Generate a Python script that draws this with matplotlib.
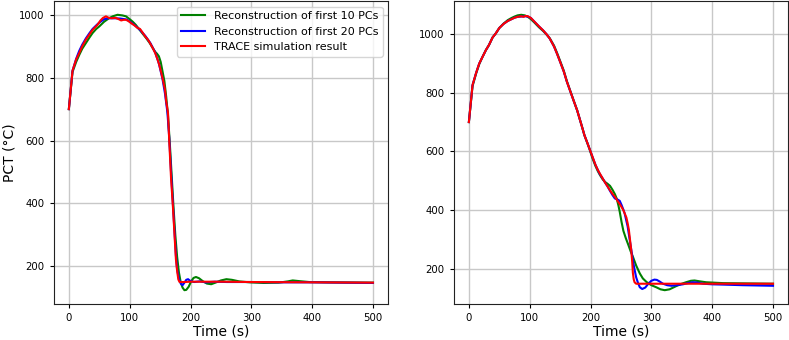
import matplotlib
matplotlib.use("Agg")
import matplotlib.pyplot as plt

# left case: fast quench
t_red_a = [0, 6, 12, 17, 22, 28, 34, 39, 47, 52, 56, 61, 66, 70, 77, 82, 86, 90, 94, 98,
           102, 108, 113, 117, 121, 126, 130, 134, 138, 142, 146, 149, 152, 155, 158, 160,
           163, 165, 168, 171, 174, 176, 178, 180, 182, 190, 200, 250, 300, 400, 500]
v_red_a = [700, 822, 858, 878, 900, 921, 938, 952, 968, 982, 990, 995, 990, 989, 990, 986, 982, 984, 984, 980,
           974, 966, 958, 955, 944, 930, 921, 908, 894, 878, 857, 838, 815, 790, 762, 725,
           688, 600, 480, 392, 290, 222, 185, 158, 150, 150, 151, 151, 150, 149, 148]

t_blue_a = [0, 6, 12, 17, 22, 28, 34, 39, 47, 52, 58, 65, 75, 85, 95, 102, 110, 118, 126, 134,
            142, 148, 154, 158, 162, 165, 168, 171, 174, 176, 178, 181, 184, 187, 190, 193,
            196, 200, 206, 215, 225, 240, 260, 300, 350, 400, 500]
v_blue_a = [700, 822, 860, 885, 905, 925, 942, 955, 970, 978, 986, 989, 989, 988, 985, 976, 964, 950, 932, 910,
            880, 845, 795, 750, 690, 610, 500, 400, 300, 235, 190, 160, 145, 140, 148, 157,
            159, 153, 150, 152, 149, 151, 150, 150, 149, 149, 147]

t_green_a = [0, 6, 12, 17, 22, 28, 34, 39, 45, 50, 58, 66, 72, 80, 88, 94, 100, 105, 110, 118,
             127, 133, 138, 142, 145, 148, 151, 154, 157, 160, 163, 166, 169, 172, 175, 178,
             181, 184, 187, 190, 193, 197, 201, 205, 209, 214, 220, 227, 234, 241, 250, 259,
             268, 280, 297, 320, 345, 360, 368, 378, 395, 430, 500]
v_green_a = [700, 818, 850, 872, 892, 910, 928, 942, 955, 963, 978, 989, 995, 1000, 998, 995, 986, 978, 968, 948,
             926, 910, 894, 882, 876, 868, 850, 820, 790, 740, 680, 590, 490, 390, 300, 230,
             180, 148, 132, 124, 125, 135, 152, 163, 166, 162, 153, 145, 143, 148, 155, 159,
             157, 152, 149, 147, 148, 152, 155, 153, 150, 149, 148]

# right case: slow quench
t_red_b = [0, 6, 12, 17, 22, 28, 33, 39, 44, 50, 57, 64, 70, 75, 80, 86, 90, 93, 97, 102,
           108, 115, 122, 128, 133, 140, 145, 150, 156, 161, 166, 172, 178, 182, 186, 190,
           195, 198, 203, 208, 212, 215, 220, 224, 228, 232, 236, 240, 244, 248, 251, 254,
           257, 259, 261, 263, 265, 267, 268.5, 269.6, 271, 272.4, 275, 300, 400, 500]
v_red_b = [700, 826, 868, 899, 920, 945, 962, 988, 1001, 1020, 1034, 1044, 1050, 1055, 1058, 1060, 1058, 1061, 1060, 1054,
           1041, 1026, 1012, 998, 984, 957, 932, 905, 872, 838, 809, 774, 740, 712, 684, 655,
           628, 611, 583, 555, 537, 526, 508, 494, 481, 468, 456, 446, 433, 421, 411, 400,
           385, 375, 356, 334, 298, 262, 225, 187, 165, 155, 150, 150, 150, 150]

t_blue_b = [0, 6, 12, 17, 22, 28, 33, 39, 44, 50, 57, 64, 70, 75, 80, 86, 93, 97, 102,
            108, 115, 122, 128, 133, 140, 145, 150, 156, 161, 166, 172, 178, 182, 186, 190,
            195, 198, 203, 208, 212, 215, 220, 224, 228, 232, 236, 240, 244, 248, 251, 254,
            256, 258, 261, 264, 267, 270, 272.4, 275, 278, 281, 285, 290, 295, 300, 305,
            309, 314, 319, 326, 333, 342, 352, 360, 368, 375, 385, 400, 418, 450, 500]
v_blue_b = [700, 826, 868, 899, 920, 945, 962, 988, 1001, 1020, 1034, 1044, 1050, 1055, 1058, 1059, 1060, 1059, 1054,
            1041, 1026, 1012, 998, 984, 957, 932, 905, 872, 838, 809, 774, 740, 712, 684, 655,
            628, 611, 583, 555, 537, 524, 508, 494, 481, 466, 452, 440, 437, 432, 418, 402,
            390, 372, 345, 305, 266, 225, 198, 172, 153, 138, 132, 137, 150, 160, 164,
            163, 157, 150, 145, 143, 145, 148, 152, 155, 154, 150, 148, 147, 145, 143]

t_green_b = [0, 6, 12, 17, 22, 28, 33, 39, 44, 50, 57, 64, 70, 75, 80, 86, 92, 97, 102,
             108, 115, 122, 128, 133, 140, 145, 150, 156, 161, 166, 172, 178, 182, 186, 190,
             195, 198, 203, 208, 212, 216, 220, 224, 228, 232, 236, 240, 243, 246, 248, 251,
             254, 258, 262, 266, 270, 275, 281, 286, 292, 300, 308, 315, 322, 330, 341, 350,
             357, 365, 371, 380, 390, 418, 460, 500]
v_green_b = [700, 822, 866, 897, 920, 945, 962, 988, 1001, 1020, 1035, 1047, 1054, 1059, 1063, 1065, 1063, 1058, 1050,
             1038, 1023, 1010, 997, 985, 960, 935, 908, 875, 840, 810, 775, 740, 712, 684, 655,
             627, 610, 578, 551, 533, 518, 505, 496, 490, 483, 470, 455, 440, 415, 395, 360,
             330, 305, 283, 260, 240, 212, 185, 168, 156, 145, 138, 131, 128, 131, 142, 150,
             155, 160, 161, 158, 155, 152, 151, 150]

labels = ["Reconstruction of first 10 PCs", "Reconstruction of first 20 PCs", "TRACE simulation result"]

fig = plt.figure(figsize=(7.89, 3.4), dpi=100)
ax1 = fig.add_axes([0.068, 0.106, 0.424, 0.891])
ax2 = fig.add_axes([0.575, 0.106, 0.424, 0.891])

cases = [(ax1, t_green_a, v_green_a, t_blue_a, v_blue_a, t_red_a, v_red_a),
         (ax2, t_green_b, v_green_b, t_blue_b, v_blue_b, t_red_b, v_red_b)]

for ax, tg, vg, tb, vb, tr, vr in cases:
    ax.plot(tg, vg, color="green", lw=1.5, label=labels[0])
    ax.plot(tb, vb, color="blue", lw=1.5, label=labels[1])
    ax.plot(tr, vr, color="red", lw=1.5, label=labels[2])
    ax.grid(True, color="#c8c8c8", lw=1.0)
    ax.set_axisbelow(True)
    ax.set_xticks([0, 100, 200, 300, 400, 500])
    ax.set_yticks([200, 400, 600, 800, 1000])
    ax.tick_params(labelsize=7.3, length=3, width=0.8)
    ax.set_xlabel("Time (s)", fontsize=10, labelpad=1)
    for s in ax.spines.values():
        s.set_color("#222222")

ax1.set_ylabel("PCT (\u00b0C)", fontsize=10, labelpad=2)
ax1.legend(loc="upper right", fontsize=8, handlelength=2.1, borderaxespad=0.5)

fig.savefig("out.png", dpi=100)
